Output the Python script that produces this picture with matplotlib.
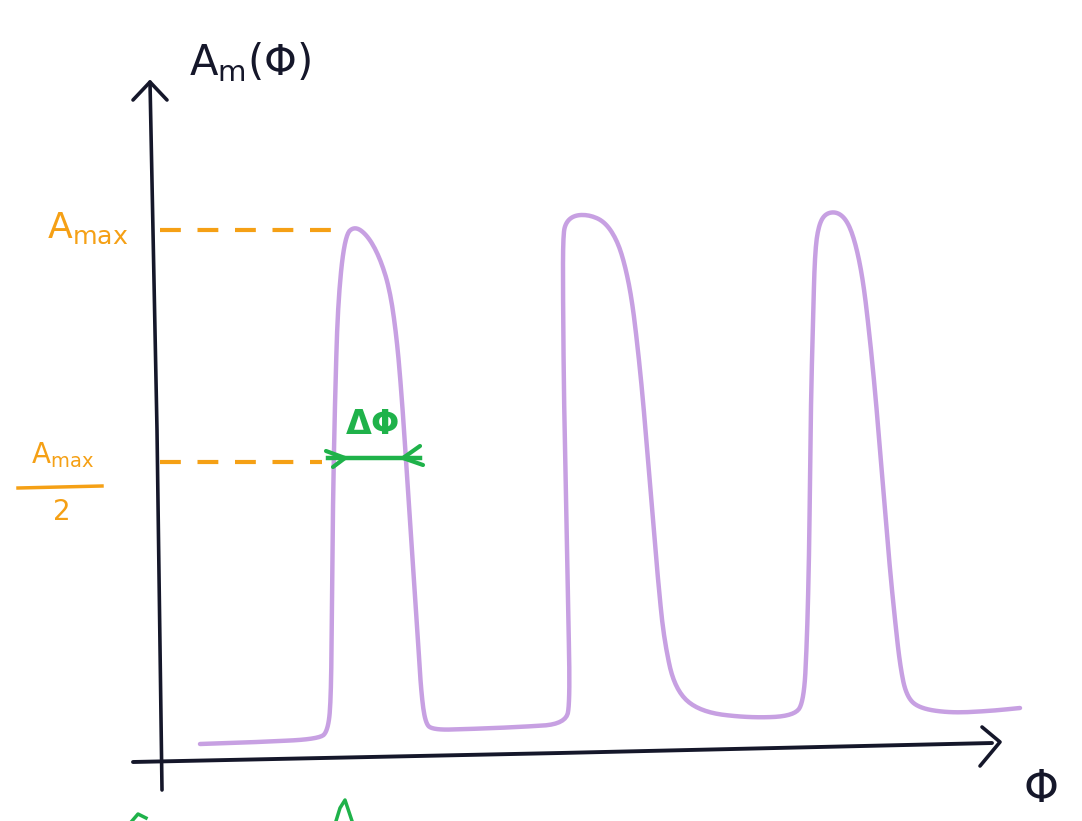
import matplotlib.pyplot as plt
import numpy as np

# hand-traced points of the sketch (pixel coordinates, y downward)
curve_x = [200, 260, 320, 328, 331, 332, 333, 335, 338, 345, 355, 368, 380, 390, 397, 402,
           406, 410, 414, 418, 421, 425, 432, 470, 520, 566, 570, 568, 566, 564, 563, 563,
           566, 575, 590, 605, 617, 625, 632, 638, 643, 648, 653, 658, 664, 675, 700, 750,
           795, 804, 807, 809, 810, 811, 813, 815, 819, 826, 838, 848, 856, 863, 869, 875,
           880, 885, 890, 895, 900, 906, 918, 950, 990, 1020]
curve_y = [744, 742, 739, 730, 700, 600, 500, 400, 300, 235, 226, 236, 258, 290, 340, 400,
           460, 520, 580, 640, 690, 722, 730, 729, 727, 724, 700, 600, 500, 400, 300, 235,
           222, 215, 215, 222, 240, 265, 300, 350, 400, 460, 520, 580, 640, 690, 712, 718,
           716, 700, 640, 560, 480, 400, 320, 250, 224, 213, 212, 222, 245, 280, 330, 390,
           450, 510, 570, 620, 665, 695, 708, 713, 711, 708]

amax_y = 230
half_y = 462
dphi_x = [328, 420]

purple = '#c7a0e2'
orange = '#f5a015'
green = '#1fb24a'
ink = '#15172a'


def chaikin(x, y, rounds=3):
    # corner cutting, just to make the pen stroke look round
    pts = np.column_stack([x, y]).astype(float)
    for _ in range(rounds):
        q = 0.75 * pts[:-1] + 0.25 * pts[1:]
        r = 0.25 * pts[:-1] + 0.75 * pts[1:]
        new = np.empty((2 * len(q), 2))
        new[0::2] = q
        new[1::2] = r
        pts = np.vstack([pts[:1], new, pts[-1:]])
    return pts[:, 0], pts[:, 1]


fig = plt.figure(figsize=(10.82, 8.21), dpi=100)
ax = fig.add_axes([0, 0, 1, 1])
ax.set_xlim(0, 1082)
ax.set_ylim(821, 0)
ax.axis('off')

# axes drawn by hand
ax.plot([162, 157, 150], [790, 430, 82], color=ink, lw=2.6, solid_capstyle='round')
ax.plot([133, 150, 167], [100, 82, 100], color=ink, lw=2.6, solid_capstyle='round')
ax.plot([133, 560, 992], [762, 753, 743], color=ink, lw=2.8, solid_capstyle='round')
ax.plot([982, 1000, 980], [727, 742, 766], color=ink, lw=2.6, solid_capstyle='round')

# the peaks
sx, sy = chaikin(curve_x, curve_y)
ax.plot(sx, sy, color=purple, lw=3.2, solid_joinstyle='round', solid_capstyle='round')

# orange guides
ax.plot([160, 345], [amax_y, amax_y], color=orange, lw=3, ls=(0, (5, 4)))
ax.plot([160, 322], [half_y, half_y], color=orange, lw=3, ls=(0, (5, 4)))
ax.text(88, 228, r'$\mathrm{A_{max}}$', color=orange, fontsize=26, ha='center', va='center')
ax.text(62, 455, r'$\mathrm{A_{max}}$', color=orange, fontsize=20, ha='center', va='center')
ax.plot([18, 102], [488, 486], color=orange, lw=2.5)
ax.text(62, 512, '2', color=orange, fontsize=20, ha='center', va='center')

# green width marker
ax.plot(dphi_x, [458, 458], color=green, lw=3.2)
ax.plot([326, 345, 333], [451, 458, 467], color=green, lw=3, solid_capstyle='round')
ax.plot([420, 403, 423], [446, 458, 465], color=green, lw=3, solid_capstyle='round')
ax.text(372, 425, r'$\mathbf{\Delta\Phi}$', color=green, fontsize=24, ha='center', va='center')

# axis labels
ax.text(250, 62, r'$\mathrm{A_m(\Phi)}$', color=ink, fontsize=30, ha='center', va='center')
ax.text(1040, 790, r'$\Phi$', color=ink, fontsize=32, ha='center', va='center')

# scribbles cut off at the bottom
ax.plot([132, 138, 146], [821, 814, 818], color=green, lw=2.5)
ax.plot([336, 340, 345, 352], [821, 808, 800, 821], color=green, lw=2.5)

fig.savefig('out.png', dpi=100, facecolor='white')
